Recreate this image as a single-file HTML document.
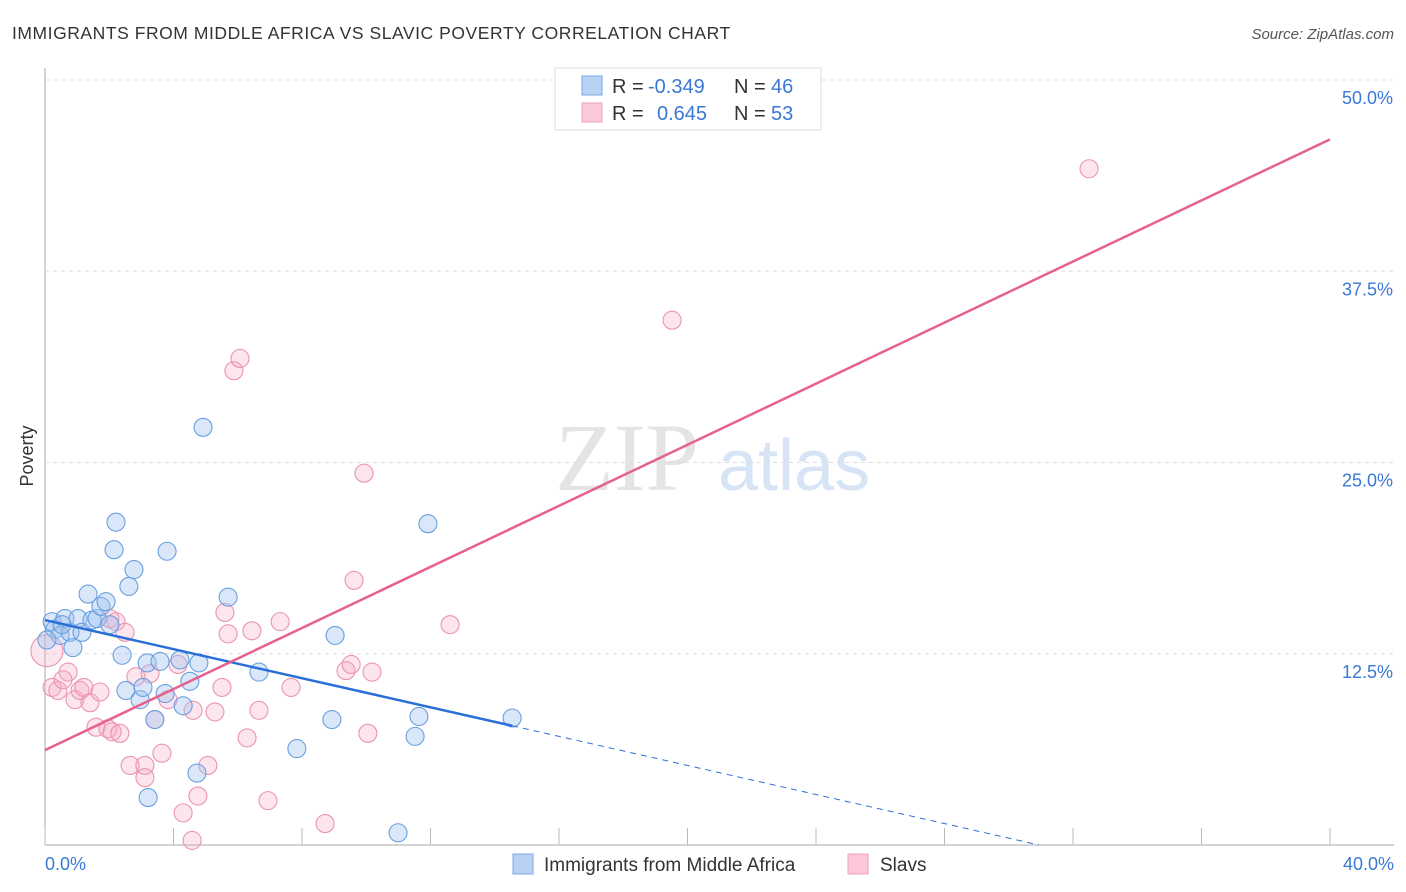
<!DOCTYPE html>
<html><head><meta charset="utf-8"><style>
body{margin:0;background:#fff;font-family:"Liberation Sans",sans-serif}
svg{display:block}
</style></head><body>
<svg id="c" width="1406" height="892">
<text x="12" y="39" font-size="17.5" fill="#333" letter-spacing="0.55">IMMIGRANTS FROM MIDDLE AFRICA VS SLAVIC POVERTY CORRELATION CHART</text>
<text x="1394" y="39" font-size="15" fill="#555" font-style="italic" text-anchor="end">Source: ZipAtlas.com</text>
<text x="33" y="456" font-size="18" fill="#333" transform="rotate(-90 33 456)" text-anchor="middle">Poverty</text>
<g><text x="555" y="490" font-size="96" font-family="Liberation Serif,serif" fill="#e4e4e4">ZIP</text><text x="718" y="490" font-size="72" fill="#d6e4f6">atlas</text></g>
<g id="grid"></g><g id="pts"></g><g id="lines"></g>
<g font-size="20">
<rect x="555" y="68" width="266" height="62" fill="#fff" stroke="#ddd"/>
<rect x="582" y="76" width="20" height="19" fill="#b8d2f4" stroke="#7aa8e6"/>
<rect x="582" y="103" width="20" height="19" fill="#fbc8d8" stroke="#eea0b8"/>
<text x="612" y="93" fill="#333">R =</text><text x="648" y="93" fill="#3a78d6">-0.349</text>
<text x="734" y="93" fill="#333">N =</text><text x="771" y="93" fill="#3a78d6">46</text>
<text x="612" y="120" fill="#333">R =</text><text x="657" y="120" fill="#3a78d6">0.645</text>
<text x="734" y="120" fill="#333">N =</text><text x="771" y="120" fill="#3a78d6">53</text>
</g>
<g>
<rect x="513" y="854" width="20" height="20" fill="#b8d2f4" stroke="#7aa8e6"/>
<text x="544" y="871" font-size="19" fill="#333">Immigrants from Middle Africa</text>
<rect x="848" y="854" width="20" height="20" fill="#fbc8d8" stroke="#eea0b8"/>
<text x="880" y="871" font-size="19" fill="#333">Slavs</text>
</g>
</svg>
<script>
const blueX=[0.22,0.31,0.47,0.62,0.78,0.87,1.03,1.15,1.34,1.46,1.62,1.74,1.90,2.02,2.21,2.15,2.40,2.52,2.61,2.77,2.96,3.05,3.18,3.21,3.42,3.58,3.80,3.74,4.20,4.30,4.51,4.73,4.79,4.92,5.70,6.66,7.84,8.93,9.03,10.99,11.52,11.64,11.92,14.54,0.53,0.06];
const blueY=[14.6,14.1,13.7,14.8,13.9,12.9,14.8,13.9,16.4,14.7,14.8,15.6,15.9,14.4,21.1,19.3,12.4,10.1,16.9,18.0,9.5,10.3,11.9,3.1,8.2,12.0,19.2,9.9,12.1,9.1,10.7,4.7,11.9,27.3,16.2,11.3,6.3,8.2,13.7,0.8,7.1,8.4,21.0,8.3,14.4,13.4];
const pinkX=[0.06,0.22,0.40,0.72,0.56,0.93,1.09,1.21,1.40,1.59,1.71,1.96,2.09,2.21,2.33,2.49,2.65,2.83,3.11,3.11,3.27,3.42,3.64,3.83,4.14,4.30,4.58,4.61,4.76,5.07,5.29,5.51,5.60,5.70,5.88,6.07,6.29,6.44,6.66,6.94,7.32,7.66,8.72,9.37,9.53,9.62,9.93,10.05,10.18,12.61,19.52,32.50,2.02];
const pinkY=[12.7,10.3,10.1,11.3,10.8,9.5,10.1,10.3,9.3,7.7,10.0,7.6,7.4,14.6,7.3,13.9,5.2,11.0,5.2,4.4,11.2,8.2,6.0,9.5,11.8,2.1,0.3,8.8,3.2,5.2,8.7,10.3,15.2,13.8,31.0,31.8,7.0,14.0,8.8,2.9,14.6,10.3,1.4,11.4,11.8,17.3,24.3,7.3,11.3,14.4,34.3,44.2,14.8];
const yTicks=[12.5,25.0,37.5,50.0];
const xTicks=[0,4,8,12,16,20,24,28,32,36,40];
const blueFit=[14.7,-0.475]; const pinkFit=[6.2,0.998];
const NS="http://www.w3.org/2000/svg";
const sx=v=>45+v*32.125, sy=v=>845-v*15.3;
function mk(p,t,a){const e=document.createElementNS(NS,t);for(const k in a)e.setAttribute(k,a[k]);p.appendChild(e);return e;}
const g=document.getElementById('grid');
let ax=mk(g,'line',{x1:45,y1:68,x2:45,y2:845,stroke:'#aaa'});


let bx=mk(g,'line',{x1:45,y1:845,x2:1394,y2:845,stroke:'#aaa'});


yTicks.forEach(t=>{
 const l=mk(g,'line',{x1:45,y1:sy(t),x2:1394,y2:sy(t),stroke:'#ddd','stroke-dasharray':'4 4'});
 
 
 const tx=mk(g,'text',{x:1393,y:sy(t)+24,'font-size':18,fill:'#3a78d6','text-anchor':'end'});tx.textContent=t.toFixed(1)+'%';
 
 
});
xTicks.forEach(t=>{
 const l=mk(g,'line',{x1:sx(t),y1:828,x2:sx(t),y2:845,stroke:'#bbb'});
 
 
});
[[0,'start',45],[40,'end',1394]].forEach(([v,a,x])=>{
 const tx=mk(g,'text',{x:x,y:870,'font-size':18,fill:'#3a78d6','text-anchor':a});tx.textContent=v.toFixed(1)+'%';
 
 
});
const P=document.getElementById('pts');
pinkX.forEach((x,i)=>{
 const c=mk(P,'circle',{cx:sx(x),cy:sy(pinkY[i]),r:i==0?16:9,fill:'rgba(246,170,196,0.3)',stroke:'#eb94b0','stroke-width':1.1});
 
 
});
blueX.forEach((x,i)=>{
 const c=mk(P,'circle',{cx:sx(x),cy:sy(blueY[i]),r:9,fill:'rgba(160,196,240,0.4)',stroke:'#6a9fe0','stroke-width':1.1});
 
 
});
const L=document.getElementById('lines');
const bxMax=Math.max(...blueX), bEnd=-blueFit[0]/blueFit[1];
let b1=mk(L,'line',{x1:sx(0),y1:sy(blueFit[0]),x2:sx(bxMax),y2:sy(blueFit[0]+blueFit[1]*bxMax),stroke:'#2a6fd6','stroke-width':2.5});


let b2=mk(L,'line',{x1:sx(bxMax),y1:sy(blueFit[0]+blueFit[1]*bxMax),x2:sx(bEnd),y2:sy(0),stroke:'#2a6fd6','stroke-width':1,'stroke-dasharray':'6 5'});


let p1=mk(L,'line',{x1:sx(0),y1:sy(pinkFit[0]),x2:sx(40),y2:sy(pinkFit[0]+pinkFit[1]*40),stroke:'#e8608c','stroke-width':2.5});


</script>
</body></html>
